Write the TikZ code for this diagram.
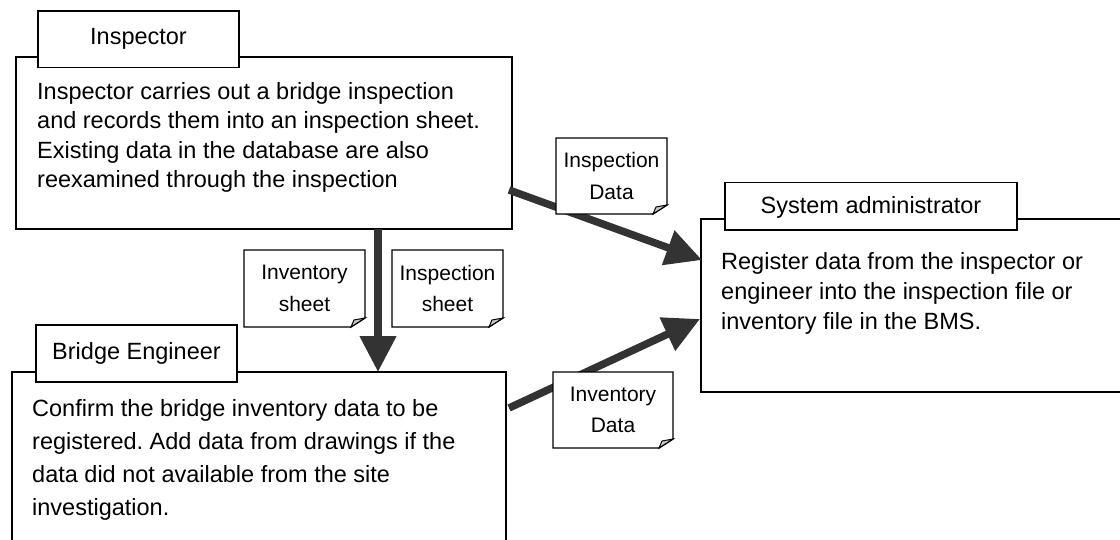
\documentclass[tikz,border=0pt]{standalone}
\usepackage{fontspec}
\setmainfont{Liberation Sans}
\usetikzlibrary{arrows.meta,calc}

\definecolor{arrowgrey}{HTML}{333333}
\definecolor{foldgrey}{HTML}{C8C8C8}

\newcommand\bodyfs{\fontsize{23.5}{29.5}\selectfont}
\newcommand\docfs{\fontsize{21}{31.5}\selectfont}

% a note sheet with a folded bottom-right corner: name, x1, y1, x2, y2, text
\newcommand\notesheet[6]{%
  \filldraw[sheetline] (#2,#3) -- (#4,#3) -- (#4,#5-9) -- (#4-14,#5) -- (#2,#5) -- cycle;
  \filldraw[foldline] (#4,#5-9) -- (#4-14,#5) -- (#4-11,#5-7) -- cycle;
  \node[sheettext] (#1) at ({(#2+#4)/2},{(#3+#5)/2}) {#6};
}

\begin{document}
\frenchspacing
\begin{tikzpicture}[x=1pt,y=-1pt,
  frame/.style={draw=black, line width=1.4pt, inner sep=0, outer sep=0, anchor=north west},
  tabbox/.style={draw=black, fill=white, line width=1.4pt, inner sep=0, outer sep=0, anchor=north west},
  lbl/.style={inner sep=0, font=\bodyfs, anchor=base},
  body/.style={inner sep=0, anchor=base west, font=\bodyfs},
  flow/.style={draw=arrowgrey, line width=7.5pt, -{Triangle[length=36pt,width=35pt]}},
  sheetline/.style={draw=black, fill=white, line width=1.4pt, line join=miter},
  foldline/.style={draw=black, fill=foldgrey, line width=1pt},
  sheettext/.style={inner sep=0, align=center, font=\docfs}]

\useasboundingbox (0,0) rectangle (1120,539);
\clip (0,0) rectangle (1120,539);

% actor boxes
\node[frame, minimum width=496pt, minimum height=172pt] (insp) at (16,57) {};
\node[frame, minimum width=424pt, minimum height=173pt] (sys) at (701,219) {};
\node[frame, minimum width=494pt, minimum height=200pt] (be) at (12,372) {};

% title tabs
\node[tabbox, minimum width=201pt, minimum height=56.7pt] (insptab) at (38,11) {};
\node[lbl] (insplbl) at (138.5,44.3) {Inspector};
\node[tabbox, minimum width=292pt, minimum height=47.3pt] (systab) at (725,182.7) {};
\node[lbl] (syslbl) at (871,213.3) {System administrator};
\node[tabbox, minimum width=201pt, minimum height=57pt] (betab) at (36,325) {};
\node[lbl] (belbl) at (136.5,359.3) {Bridge Engineer};

% descriptions
\node[body] (insptxt) at (37,99) {\parbox[t]{470pt}{\raggedright
  Inspector carries out a bridge inspection\\
  and records them into an inspection sheet.\\
  Existing data in the database are also\\
  reexamined through the inspection}};
\node[body] (systxt) at (721,269.3) {\parbox[t]{390pt}{\raggedright\fontsize{23.5}{30}\selectfont
  Register data from the inspector or\\
  engineer into the inspection file or\\
  inventory file in the BMS.}};
\node[body] (betxt) at (32,416.7) {\parbox[t]{470pt}{\raggedright\fontsize{23.5}{33}\selectfont
  Confirm the bridge inventory data to be\\
  registered. Add data from drawings if the\\
  data did not available from the site\\
  investigation.}};

% data flows
\draw[flow] ($(insp.south east)+(-3,-39)$) -- ($(sys.north west)+(1,41)$);
\draw[flow] ($(be.north east)+(3,36)$) -- ($(sys.north west)+(-1,100)$);
\draw[flow] ($(insp.south west)+(362,0)$) -- ($(be.north west)+(366,0)$);

% documents passed along
\notesheet{inspdata}{556}{138}{667}{214}{Inspection\\Data}
\notesheet{invsheet}{244}{250}{365}{327}{Inventory\\sheet}
\notesheet{inspsheet}{392}{250}{503}{327}{Inspection\\sheet}
\notesheet{invdata}{553}{372}{673}{448}{Inventory\\Data}

\end{tikzpicture}
\end{document}
